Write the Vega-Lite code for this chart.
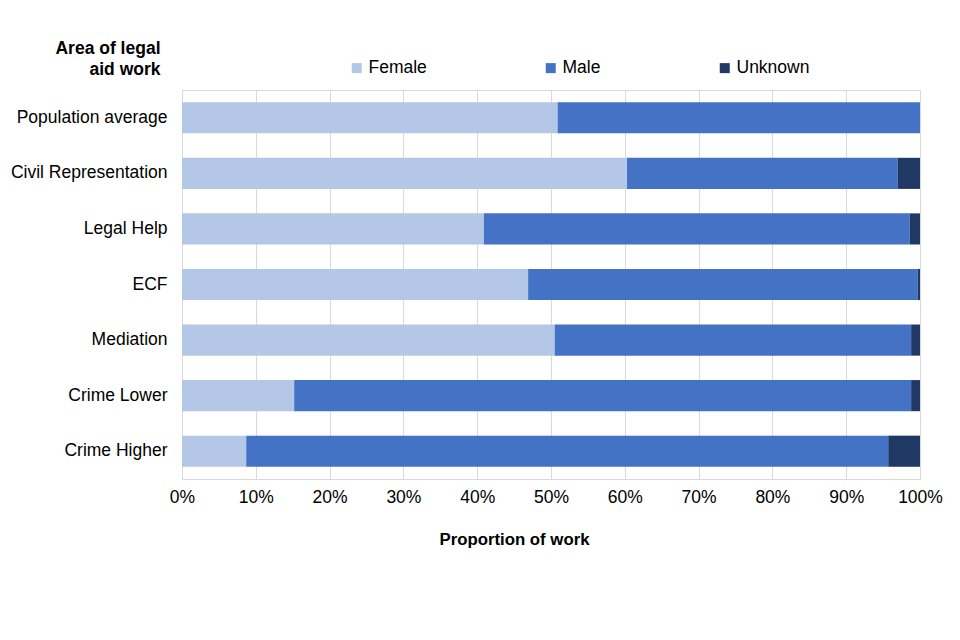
{
  "$schema": "https://vega.github.io/schema/vega-lite/v6.json",
  "width": 738,
  "height": 389,
  "autosize": "none",
  "padding": {"left": 182, "top": 90, "right": 40, "bottom": 161},
  "background": "white",
  "config": {
    "font": "Liberation Sans",
    "view": {"stroke": "#d9d9d9", "strokeWidth": 1}
  },
  "data": {
    "values": [
      {"area": "Population average", "gender": "Female", "share": 0.509},
      {"area": "Population average", "gender": "Male", "share": 0.491},
      {"area": "Population average", "gender": "Unknown", "share": 0.0},
      {"area": "Civil Representation", "gender": "Female", "share": 0.603},
      {"area": "Civil Representation", "gender": "Male", "share": 0.367},
      {"area": "Civil Representation", "gender": "Unknown", "share": 0.030},
      {"area": "Legal Help", "gender": "Female", "share": 0.409},
      {"area": "Legal Help", "gender": "Male", "share": 0.577},
      {"area": "Legal Help", "gender": "Unknown", "share": 0.014},
      {"area": "ECF", "gender": "Female", "share": 0.469},
      {"area": "ECF", "gender": "Male", "share": 0.528},
      {"area": "ECF", "gender": "Unknown", "share": 0.003},
      {"area": "Mediation", "gender": "Female", "share": 0.505},
      {"area": "Mediation", "gender": "Male", "share": 0.483},
      {"area": "Mediation", "gender": "Unknown", "share": 0.012},
      {"area": "Crime Lower", "gender": "Female", "share": 0.152},
      {"area": "Crime Lower", "gender": "Male", "share": 0.836},
      {"area": "Crime Lower", "gender": "Unknown", "share": 0.012},
      {"area": "Crime Higher", "gender": "Female", "share": 0.087},
      {"area": "Crime Higher", "gender": "Male", "share": 0.870},
      {"area": "Crime Higher", "gender": "Unknown", "share": 0.043}
    ]
  },
  "mark": {"type": "bar"},
  "encoding": {
    "y": {
      "field": "area",
      "type": "nominal",
      "sort": null,
      "scale": {"paddingInner": 0.44, "paddingOuter": 0.22},
      "axis": {
        "title": ["Area of legal", "aid work"],
        "titleAngle": 0,
        "titleAlign": "right",
        "titleBaseline": "alphabetic",
        "titleX": -22,
        "titleY": -37,
        "titleFontSize": 17.5,
        "titleFontWeight": "bold",
        "titleLineHeight": 21,
        "titleColor": "#000000",
        "labelFontSize": 17.5,
        "labelColor": "#000000",
        "labelPadding": 15,
        "ticks": false,
        "domain": false,
        "labelLimit": 300
      }
    },
    "x": {
      "field": "share",
      "type": "quantitative",
      "stack": "zero",
      "scale": {"domain": [0, 1]},
      "axis": {
        "title": "Proportion of work",
        "titleX": 332,
        "titleFontSize": 16.8,
        "titleFontWeight": "bold",
        "titleColor": "#000000",
        "titlePadding": 26,
        "format": ".0%",
        "values": [0, 0.1, 0.2, 0.3, 0.4, 0.5, 0.6, 0.7, 0.8, 0.9, 1],
        "labelFontSize": 17.5,
        "labelColor": "#000000",
        "labelPadding": 9,
        "labelFlush": false,
        "ticks": false,
        "domain": false,
        "grid": true,
        "gridColor": "#d9d9d9",
        "gridWidth": 1
      }
    },
    "color": {
      "field": "gender",
      "type": "nominal",
      "scale": {
        "domain": ["Female", "Male", "Unknown"],
        "range": ["#b4c7e7", "#4472c4", "#203864"]
      },
      "legend": {
        "title": null,
        "orient": "none",
        "direction": "horizontal",
        "legendX": 166,
        "legendY": -31,
        "symbolType": "square",
        "symbolSize": 100,
        "symbolStrokeWidth": 0,
        "symbolOpacity": 1,
        "labelFontSize": 17.5,
        "labelColor": "#000000",
        "labelOffset": 3,
        "gridAlign": "each",
        "columnPadding": 115
      }
    }
  }
}
